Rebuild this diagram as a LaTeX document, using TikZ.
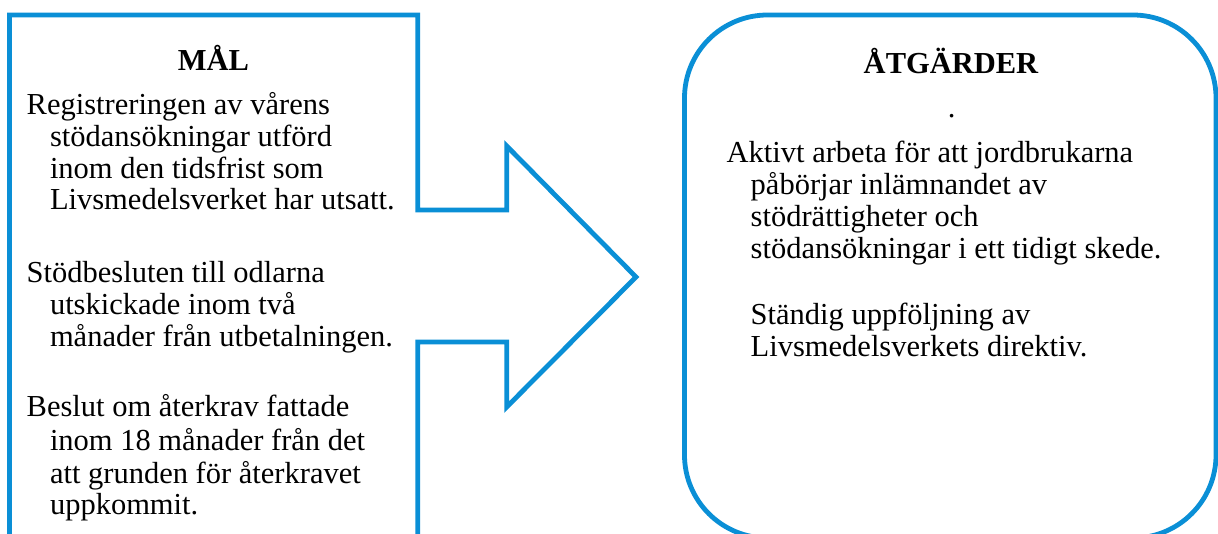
\documentclass[tikz,border=0pt]{standalone}
\usepackage{fontspec}
\setmainfont{Liberation Serif}
\definecolor{shapeblue}{RGB}{10,143,214}
\tikzset{
  outline/.style={draw=shapeblue, line width=4.8pt, line join=miter},
  bodytxt/.style={anchor=base west, inner sep=0pt, outer sep=0pt, font=\fontsize{30.5}{32}\selectfont},
  titletxt/.style={anchor=base, inner sep=0pt, outer sep=0pt, font=\fontsize{30.5}{32}\selectfont\bfseries},
  dottxt/.style={anchor=base, inner sep=0pt, outer sep=0pt, font=\fontsize{30.5}{32}\selectfont}
}
\begin{document}
\begin{tikzpicture}[x=1pt,y=-1pt]
\useasboundingbox (0,0) rectangle (1218,534);
\clip (0,0) rectangle (1218,534);
\fill[white] (0,0) rectangle (1218,534);
% left box with arrow
\draw[outline] (9.5,560) -- (9.5,15) -- (417.7,15) -- (417.7,210) -- (506.7,210)
  -- (506.7,146) -- (636,277) -- (506.7,407) -- (506.7,342) -- (417.7,342) -- (417.7,560) -- cycle;
% right rounded box
\draw[outline, rounded corners=83pt] (684.5,15) rectangle (1216,538);
% left texts
\node[titletxt] (maltitle) at (213.5,70.5) {MÅL};
\node[bodytxt] (a1) at (26.7,115) {Registreringen av vårens};
\node[bodytxt] (a2) at (50,146.7) {stödansökningar utförd};
\node[bodytxt] (a3) at (50,178.3) {inom den tidsfrist som};
\node[bodytxt] (a4) at (50,210) {Livsmedelsverket har utsatt.};
\node[bodytxt] (b1) at (26.7,282.7) {Stödbesluten till odlarna};
\node[bodytxt] (b2) at (50,315) {utskickade inom två};
\node[bodytxt] (b3) at (50,346.7) {månader från utbetalningen.};
\node[bodytxt] (c1) at (26.7,416.5) {Beslut om återkrav fattade};
\node[bodytxt] (c2) at (50,450.5) {inom 18 månader från det};
\node[bodytxt] (c3) at (50,483) {att grunden för återkravet};
\node[bodytxt] (c4) at (50,514) {uppkommit.};
% right texts
\node[titletxt] (atgtitle) at (951,73.3) {ÅTGÄRDER};
\node[dottxt] (dot) at (951.7,117.3) {.};
\node[bodytxt] (d1) at (726.7,162.7) {Aktivt arbeta för att jordbrukarna};
\node[bodytxt] (d2) at (750.7,195) {påbörjar inlämnandet av};
\node[bodytxt] (d3) at (750.7,226.7) {stödrättigheter och};
\node[bodytxt] (d4) at (750.7,258.3) {stödansökningar i ett tidigt skede.};
\node[bodytxt] (e1) at (750.7,325) {Ständig uppföljning av};
\node[bodytxt] (e2) at (750.7,356.7) {Livsmedelsverkets direktiv.};
\end{tikzpicture}
\end{document}
